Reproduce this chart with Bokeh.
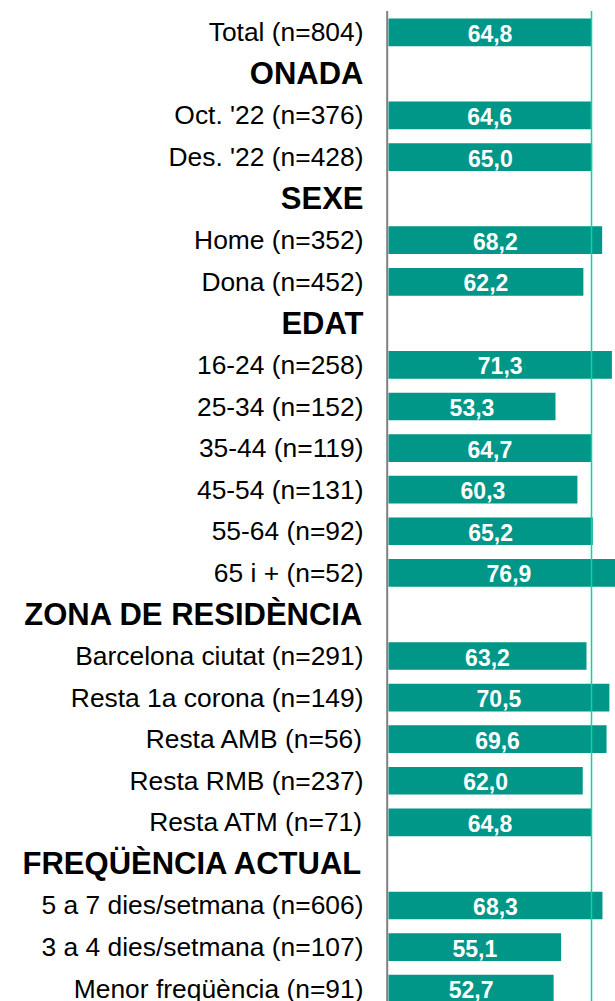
from bokeh.plotting import figure
from bokeh.models import Range1d, ColumnDataSource
from bokeh.core.properties import value
from bokeh.embed import file_html
from bokeh.resources import INLINE

# ---- data ----
categories = [
    "Total (n=804)",
    "ONADA",
    "Oct. '22 (n=376)",
    "Des. '22 (n=428)",
    "SEXE",
    "Home (n=352)",
    "Dona (n=452)",
    "EDAT",
    "16-24 (n=258)",
    "25-34 (n=152)",
    "35-44 (n=119)",
    "45-54 (n=131)",
    "55-64 (n=92)",
    "65 i + (n=52)",
    "ZONA DE RESIDÈNCIA",
    "Barcelona ciutat (n=291)",
    "Resta 1a corona (n=149)",
    "Resta AMB (n=56)",
    "Resta RMB (n=237)",
    "Resta ATM (n=71)",
    "FREQÜÈNCIA ACTUAL",
    "5 a 7 dies/setmana (n=606)",
    "3 a 4 dies/setmana (n=107)",
    "Menor freqüència (n=91)",
]
headers = ["ONADA", "SEXE", "EDAT", "ZONA DE RESIDÈNCIA", "FREQÜÈNCIA ACTUAL"]
values = [64.8, None, 64.6, 65.0, None, 68.2, 62.2, None,
          71.3, 53.3, 64.7, 60.3, 65.2, 76.9, None,
          63.2, 70.5, 69.6, 62.0, 64.8, None,
          68.3, 55.1, 52.7]
reference_value = 64.8

# ---- layout constants ----
W, H = 615, 1001
PX_PER_UNIT = 3.133
ZERO_PX = 388
ROW0_PX = 31.8
ROW_PX = 41.58

x_start = -ZERO_PX / PX_PER_UNIT
x_end = (W - ZERO_PX) / PX_PER_UNIT
y_top = -ROW0_PX / ROW_PX
y_bottom = (H - ROW0_PX) / ROW_PX

p = figure(width=W, height=H, output_backend="svg", toolbar_location=None,
           x_range=Range1d(x_start, x_end), y_range=Range1d(y_bottom, y_top),
           x_axis_location=None, y_axis_location=None, min_border=0)
p.xgrid.visible = False
p.ygrid.visible = False
p.outline_line_color = None
p.background_fill_color = "white"
p.border_fill_color = "white"

idx = list(range(len(categories)))
bar_y = [i for i, v in zip(idx, values) if v is not None]
bar_v = [v for v in values if v is not None]
bars = ColumnDataSource(dict(
    y=bar_y, right=bar_v, mid=[v / 2 for v in bar_v],
    txt=[f"{v:.1f}".replace(".", ",") for v in bar_v]))

cat_src = ColumnDataSource(dict(
    y=[i for i, c in zip(idx, categories) if c not in headers],
    txt=[c for c in categories if c not in headers]))
hdr_src = ColumnDataSource(dict(
    y=[i for i, c in zip(idx, categories) if c in headers],
    txt=[c for c in categories if c in headers]))

line_top = -0.51
line_bottom = y_bottom + 1

# axis line
axis_x = -1.3 / PX_PER_UNIT
p.segment(x0=[axis_x], x1=[axis_x], y0=[line_top], y1=[line_bottom],
          line_color="#808080", line_width=2)

p.hbar(y="y", left=0, right="right", height=0.666, source=bars,
       fill_color="#009688", line_color=None)

# reference line
p.segment(x0=[reference_value], x1=[reference_value], y0=[line_top], y1=[line_bottom],
          line_color="#00d9a3", line_width=1.5)

p.text(x="mid", y="y", text="txt", source=bars, text_align="center",
       text_baseline="middle", text_color="white", text_font=value("Liberation Sans"),
       text_font_style="bold", text_font_size="23px", y_offset=1)

p.text(x=0, y="y", text="txt", source=cat_src, x_offset=-25,
       text_align="right", text_baseline="middle", text_color="black",
       text_font=value("Liberation Sans"), text_font_size="26.4px")
p.text(x=0, y="y", text="txt", source=hdr_src, x_offset=-25,
       text_align="right", text_baseline="middle", text_color="black",
       text_font=value("Liberation Sans"), text_font_style="bold",
       text_font_size="31px")

open("out.html", "w").write(file_html(p, INLINE))
